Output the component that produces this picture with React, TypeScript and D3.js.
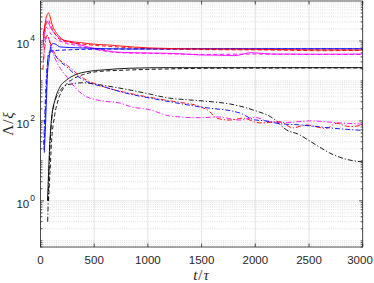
import React, { useEffect } from 'react';
import * as d3 from 'd3';

type Pt = [number, number];

// Series: [t/tau, Lambda/xi]
const redSolid: Pt[] = [[25, 14000], [40, 25000], [55, 40000], [75, 50000], [90, 40000], [104, 28000], [125, 20000], [150, 15600], [180, 12500], [212, 10600], [270, 9800], [367, 9100], [500, 8300], [646, 7900], [740, 7500], [1018, 6700], [1485, 6300], [2000, 6200], [2226, 6100], [2598, 5950], [3000, 5950]];
const redDashed: Pt[] = [[25, 8000], [40, 18000], [60, 30000], [75, 33000], [90, 27000], [110, 20000], [150, 13000], [212, 10000], [367, 8500], [646, 7300], [1018, 6400], [1485, 6100], [2226, 5900], [2598, 5700], [3000, 5800]];
const redDashDot: Pt[] = [[22, 1900], [35, 5000], [50, 11000], [65, 14000], [80, 11000], [110, 6500], [160, 3800], [244, 2500], [398, 1170], [600, 700], [832, 490], [1111, 350], [1300, 290], [1485, 230], [1575, 170], [1638, 117], [1762, 105], [1884, 117], [2040, 89], [2226, 95], [2350, 67], [2474, 79], [2660, 65], [2753, 87], [2877, 72], [3000, 78]];

const magentaSolid: Pt[] = [[25, 10000], [40, 22000], [58, 32000], [75, 28000], [100, 20000], [119, 17000], [181, 11600], [305, 9000], [500, 6500], [740, 5200], [1018, 5000], [1300, 4800], [1485, 4470], [1650, 4400], [1808, 4300], [1963, 5100], [2150, 4700], [2289, 4700], [2600, 4650], [3000, 4700]];
const magentaDashed: Pt[] = [[25, 7000], [40, 16000], [50, 22000], [65, 21000], [90, 16000], [130, 12000], [200, 9500], [330, 7800], [500, 6200], [740, 5100], [1018, 4900], [1485, 4600], [2000, 4700], [2500, 4600], [3000, 4600]];
const magentaDashDot: Pt[] = [[25, 3000], [40, 9000], [55, 14000], [70, 13000], [100, 6500], [150, 3000], [244, 1270], [330, 650], [430, 400], [600, 310], [740, 280], [832, 230], [1018, 190], [1204, 133], [1485, 120], [1650, 126], [1855, 105], [1994, 123], [2133, 95], [2300, 92], [2505, 100], [2784, 89], [3000, 83]];

const blueSolid: Pt[] = [[35, 16], [45, 60], [55, 330], [65, 1500], [79, 3350], [98, 7500], [119, 8700], [150, 8000], [181, 7100], [367, 6700], [832, 6300], [1500, 6400], [2200, 6400], [3000, 6400]];
const blueDashed: Pt[] = [[32, 19], [42, 80], [51, 335], [62, 1800], [73, 4500], [95, 5400], [120, 5700], [200, 5900], [500, 6200], [1000, 6300], [2000, 6300], [3000, 6300]];
const blueDashDot: Pt[] = [[30, 25], [40, 150], [50, 700], [65, 3000], [80, 5000], [95, 5900], [120, 5000], [170, 3300], [244, 2260], [330, 1400], [430, 960], [600, 700], [740, 540], [1111, 335], [1485, 224], [1855, 158], [1994, 106], [2100, 100], [2226, 85], [2400, 80], [2598, 71], [2800, 63], [3000, 58]];

const blackSolid: Pt[] = [[65, 1], [75, 5], [88, 33], [105, 130], [135, 335], [180, 700], [244, 1060], [330, 1450], [430, 1700], [600, 1900], [832, 2080], [1200, 2150], [2000, 2150], [3000, 2150]];
const blackDashed: Pt[] = [[75, 1], [88, 5], [104, 33], [130, 130], [165, 335], [220, 700], [290, 1060], [400, 1450], [522, 1700], [832, 1880], [1200, 2000], [1600, 2080], [2200, 2100], [3000, 2120]];
const blackDashDot: Pt[] = [[67, 0.3], [75, 2], [85, 15], [100, 80], [125, 250], [170, 500], [250, 800], [400, 900], [550, 800], [740, 660], [1000, 480], [1204, 370], [1390, 335], [1600, 300], [1762, 266], [1978, 188], [2164, 117], [2289, 60], [2412, 45], [2490, 33.5], [2600, 22], [2692, 15.8], [2846, 11], [3000, 9.4]];

const xTicks = [0, 500, 1000, 1500, 2000, 2500, 3000];
const yMajor = [1, 100, 10000];
const yMajorExp = ['0', '2', '4'];

const series: { data: Pt[]; color: string; dash: string }[] = [
  { data: blackSolid, color: '#000000', dash: '' },
  { data: blackDashed, color: '#000000', dash: '4,2.5' },
  { data: blackDashDot, color: '#000000', dash: '5,2,1.2,2' },
  { data: magentaDashDot, color: '#ff00ff', dash: '5,2,1.2,2' },
  { data: redDashDot, color: '#ff0000', dash: '5,2,1.2,2' },
  { data: blueDashDot, color: '#0000ff', dash: '5,2,1.2,2' },
  { data: magentaDashed, color: '#ff00ff', dash: '4,2.5' },
  { data: magentaSolid, color: '#ff00ff', dash: '' },
  { data: blueDashed, color: '#0000ff', dash: '4,2.5' },
  { data: redDashed, color: '#ff0000', dash: '4,2.5' },
  { data: blueSolid, color: '#0000ff', dash: '' },
  { data: redSolid, color: '#ff0000', dash: '' },
];

const W = 374;
const H = 283;
const plot = { left: 40.5, right: 362.7, top: 1, bottom: 247 };

const App: React.FC = () => {
  useEffect(() => {
    document.body.style.margin = '0';
  }, []);

  const x = d3.scaleLinear().domain([0, 3000]).range([plot.left, plot.right]);
  const y = d3.scaleLog().domain([0.07, 1e5]).range([plot.bottom, plot.top]);

  const line = d3.line<Pt>()
    .x((d) => x(d[0]))
    .y((d) => y(d[1]))
    .curve(d3.curveMonotoneX);

  // minor log ticks (everything that is not a labelled decade)
  const minor: number[] = [];
  for (let k = -2; k <= 4; k += 1) {
    for (let m = 1; m <= 9; m += 1) {
      const v = m * 10 ** k;
      if (v >= 0.07 && v <= 1e5 && !yMajor.includes(v)) minor.push(v);
    }
  }

  const axisColor = '#262626';
  const tickFont = '"Liberation Sans", Arial, sans-serif';
  const labelHalf = 13; // half width of a 4-digit label, keeps "3000" inside the page

  return (
    <svg width={W} height={H} style={{ display: 'block', background: '#fff' }}>
      <defs>
        <clipPath id="plotClip">
          <rect x={plot.left} y={plot.top} width={plot.right - plot.left} height={plot.bottom - plot.top} />
        </clipPath>
      </defs>

      {/* grid */}
      <g>
        {minor.map((v) => (
          <line key={`mg${v}`} x1={plot.left} x2={plot.right} y1={y(v)} y2={y(v)}
            stroke="#c8c8c8" strokeWidth={0.6} strokeDasharray="1,1.2" />
        ))}
        {yMajor.map((v) => (
          <line key={`yg${v}`} x1={plot.left} x2={plot.right} y1={y(v)} y2={y(v)}
            stroke="#dcdcdc" strokeWidth={0.8} />
        ))}
        {xTicks.map((t) => (
          <line key={`xg${t}`} x1={x(t)} x2={x(t)} y1={plot.top} y2={plot.bottom}
            stroke="#dcdcdc" strokeWidth={0.8} />
        ))}
      </g>

      {/* data */}
      <g clipPath="url(#plotClip)">
        {series.map((s, i) => (
          <path key={i} d={line(s.data) ?? ''} fill="none" stroke={s.color}
            strokeWidth={0.9} strokeDasharray={s.dash || undefined} />
        ))}
      </g>

      {/* box and ticks */}
      <rect x={plot.left} y={plot.top} width={plot.right - plot.left} height={plot.bottom - plot.top}
        fill="none" stroke={axisColor} strokeWidth={0.8} />
      <g stroke={axisColor} strokeWidth={0.8}>
        {xTicks.map((t) => (
          <g key={`xt${t}`}>
            <line x1={x(t)} x2={x(t)} y1={plot.bottom} y2={plot.bottom - 3.5} />
            <line x1={x(t)} x2={x(t)} y1={plot.top} y2={plot.top + 3.5} />
          </g>
        ))}
        {yMajor.map((v) => (
          <g key={`yt${v}`}>
            <line x1={plot.left} x2={plot.left + 3.5} y1={y(v)} y2={y(v)} />
            <line x1={plot.right} x2={plot.right - 3.5} y1={y(v)} y2={y(v)} />
          </g>
        ))}
        {minor.map((v) => (
          <g key={`ymt${v}`}>
            <line x1={plot.left} x2={plot.left + 2} y1={y(v)} y2={y(v)} />
            <line x1={plot.right} x2={plot.right - 2} y1={y(v)} y2={y(v)} />
          </g>
        ))}
      </g>

      {/* tick labels */}
      <g fill={axisColor} fontFamily={tickFont} fontSize={11.5}>
        {xTicks.map((t) => (
          <text key={`xl${t}`} x={Math.min(x(t), W - 1 - labelHalf)} y={264} textAnchor="middle">{t}</text>
        ))}
        {yMajor.map((v, i) => (
          <text key={`yl${v}`} x={35} y={y(v) + 7} textAnchor="end">
            10
            <tspan dx={1} dy={-6.5} fontSize={8.5}>{yMajorExp[i]}</tspan>
          </text>
        ))}
      </g>

      {/* axis titles */}
      <text x={201} y={280} textAnchor="middle" fill={axisColor}
        fontFamily='"Liberation Serif", "DejaVu Serif", serif' fontSize={15}>
        <tspan fontStyle="italic">t</tspan>
        <tspan dx={1}>/</tspan>
        <tspan dx={1} fontStyle="italic">τ</tspan>
      </text>
      <text transform="translate(13,124) rotate(-90)" textAnchor="middle" fill={axisColor}
        fontFamily='"Liberation Serif", "DejaVu Serif", serif' fontSize={15}>
        <tspan>Λ</tspan>
        <tspan dx={1}>/</tspan>
        <tspan dx={1} fontStyle="italic">ξ</tspan>
      </text>
    </svg>
  );
};

export default App;
